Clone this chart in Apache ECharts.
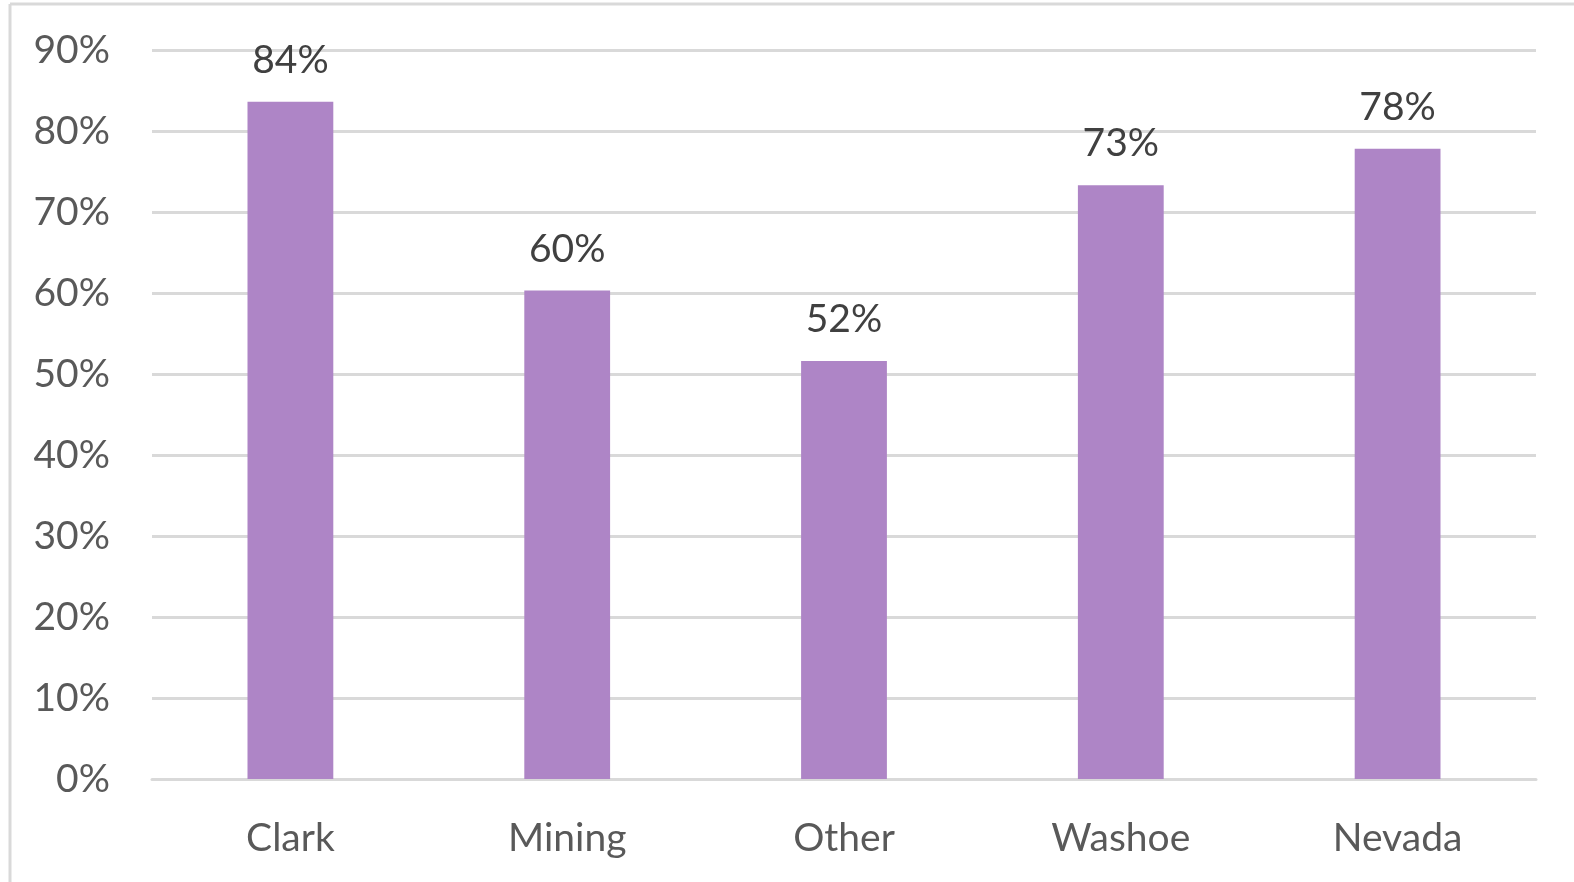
<!DOCTYPE html>
<html>
<head>
<meta charset="utf-8">
<script src="https://cdn.jsdelivr.net/npm/echarts@6/dist/echarts.min.js"></script>
<style>
html,body{margin:0;padding:0;background:#fff;}
#c{width:1574px;height:882px;}
</style>
</head>
<body>
<div id="c"></div>
<script>
const categories = ['Clark', 'Mining', 'Other', 'Washoe', 'Nevada'];
const values = [83.6, 60.3, 51.6, 73.3, 77.8];
const valueLabels = ['84%', '60%', '52%', '73%', '78%'];
const yTicks = [0, 10, 20, 30, 40, 50, 60, 70, 80, 90];

const chart = echarts.init(document.getElementById('c'));
chart.setOption({
  animation: false,
  backgroundColor: '#ffffff',
  graphic: [
    { type: 'line', shape: { x1: 10, y1: 4, x2: 10, y2: 882 }, style: { stroke: '#d9d9d9', lineWidth: 3 } },
    { type: 'line', shape: { x1: 10, y1: 4, x2: 1574, y2: 4 }, style: { stroke: '#d9d9d9', lineWidth: 3 } }
  ],
  grid: { left: 152, right: 38, top: 50, bottom: 103 },
  xAxis: {
    type: 'category',
    data: categories,
    axisLine: { show: true, lineStyle: { color: '#d9d9d9', width: 3 } },
    axisTick: { show: false },
    axisLabel: { color: '#595959', fontFamily: 'Lato', fontSize: 39, margin: 40 }
  },
  yAxis: {
    type: 'value',
    min: 0,
    max: 90,
    interval: 10,
    axisLine: { show: false },
    axisTick: { show: false },
    splitLine: { lineStyle: { color: '#d9d9d9', width: 3 } },
    axisLabel: {
      color: '#595959', fontFamily: 'Lato', fontSize: 39, margin: 42,
      formatter: v => yTicks.includes(v) ? v + '%' : ''
    }
  },
  series: [{
    type: 'bar',
    data: values,
    barWidth: '31%',
    itemStyle: { color: '#ae85c6' },
    label: {
      show: true,
      position: 'top',
      distance: 22,
      color: '#404040',
      fontFamily: 'Lato',
      fontSize: 39,
      formatter: p => valueLabels[p.dataIndex]
    }
  }]
});
</script>
</body>
</html>
